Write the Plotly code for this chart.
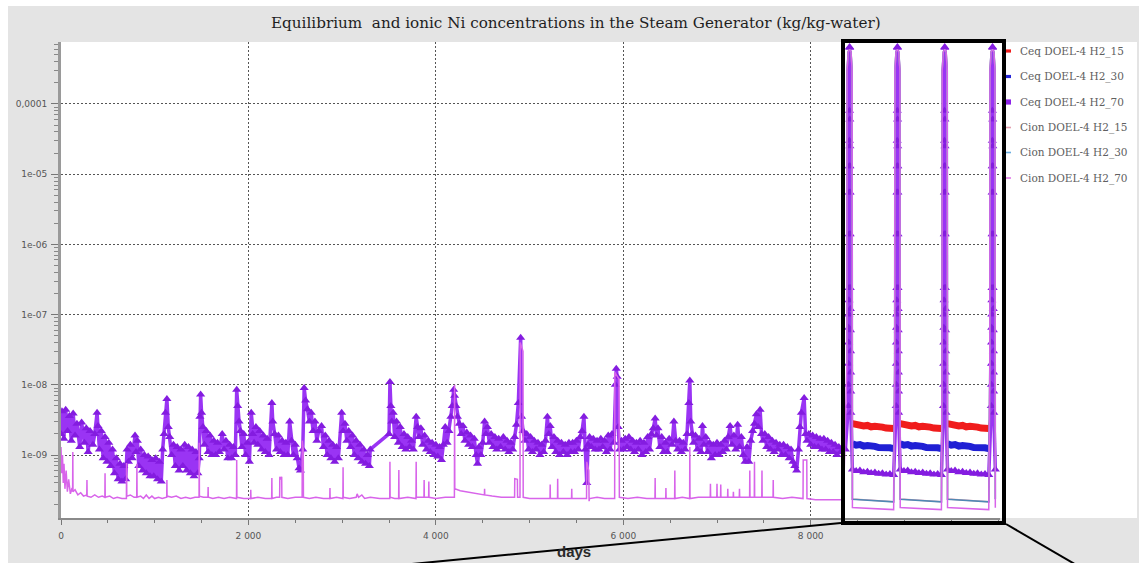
import plotly.graph_objects as go

# ---------------------------------------------------------------------------
# Measured plant history: equilibrium Ni (Ceq), units of 1e-9 kg/kg-water
# ---------------------------------------------------------------------------
hist_days = [
    0, 10, 30, 50, 70, 90, 110, 130, 150, 170,
    200, 220, 250, 270, 290, 310, 340, 360, 385, 395,
    410, 430, 450, 470, 490, 510, 530, 550, 570, 590,
    610, 630, 650, 670, 690, 705, 720, 740, 760, 790,
    800, 815, 830, 850, 870, 890, 910, 930, 950, 970,
    990, 1010, 1030, 1050, 1070, 1085, 1100, 1115, 1130, 1145,
    1160, 1180, 1200, 1220, 1240, 1260, 1280, 1300, 1320, 1340,
    1360, 1380, 1400, 1420, 1440, 1460, 1475, 1482, 1490, 1500,
    1515, 1530, 1550, 1570, 1590, 1610, 1630, 1650, 1670, 1690,
    1720, 1740, 1760, 1780, 1800, 1820, 1840, 1860, 1875, 1885,
    1900, 1915, 1930, 1950, 1970, 1990, 2010, 2030, 2045, 2060,
    2080, 2100, 2120, 2140, 2160, 2180, 2200, 2220, 2250, 2260,
    2280, 2300, 2320, 2340, 2360, 2380, 2400, 2420, 2440, 2460,
    2480, 2500, 2520, 2540, 2555, 2580, 2595, 2610, 2630, 2650,
    2670, 2690, 2710, 2730, 2750, 2780, 2800, 2820, 2840, 2860,
    2880, 2900, 2920, 2940, 2960, 2995, 3010, 3030, 3050, 3070,
    3090, 3110, 3130, 3150, 3170, 3190, 3210, 3230, 3250, 3270,
    3290, 3300, 3500, 3510, 3520, 3530, 3545, 3560, 3580, 3600,
    3620, 3640, 3660, 3680, 3700, 3720, 3740, 3760, 3790, 3805,
    3820, 3840, 3860, 3880, 3900, 3920, 3940, 3960, 3980, 4000,
    4020, 4040, 4060, 4080, 4100, 4120, 4140, 4160, 4175, 4190,
    4200, 4215, 4230, 4250, 4270, 4290, 4310, 4330, 4350, 4370,
    4390, 4410, 4430, 4445, 4460, 4480, 4500, 4520, 4535, 4550,
    4570, 4590, 4610, 4630, 4650, 4670, 4690, 4720, 4740, 4760,
    4780, 4800, 4820, 4840, 4860, 4880, 4905, 4915, 4930, 4950,
    4970, 4990, 5010, 5030, 5050, 5070, 5090, 5110, 5130, 5150,
    5170, 5190, 5205, 5220, 5240, 5260, 5280, 5300, 5320, 5340,
    5360, 5380, 5400, 5420, 5440, 5460, 5480, 5500, 5520, 5540,
    5560, 5580, 5595, 5610, 5625, 5640, 5660, 5680, 5700, 5720,
    5740, 5760, 5780, 5800, 5820, 5840, 5860, 5880, 5900, 5915,
    5925, 5935, 5945, 5960, 5980, 6000, 6020, 6040, 6060, 6080,
    6100, 6120, 6140, 6160, 6180, 6200, 6220, 6240, 6260, 6280,
    6300, 6320, 6340, 6355, 6370, 6390, 6410, 6430, 6450, 6470,
    6490, 6520, 6540, 6560, 6580, 6600, 6620, 6640, 6660, 6680,
    6700, 6710, 6720, 6735, 6750, 6770, 6790, 6810, 6830, 6845,
    6860, 6880, 6900, 6920, 6940, 6960, 6980, 7000, 7020, 7040,
    7060, 7080, 7100, 7120, 7140, 7160, 7180, 7200, 7220, 7240,
    7260, 7280, 7300, 7320, 7340, 7360, 7380, 7400, 7420, 7440,
    7460, 7475, 7490, 7510, 7530, 7550, 7570, 7590, 7610, 7630,
    7650, 7670, 7690, 7710, 7730, 7750, 7770, 7790, 7810, 7830,
    7850, 7870, 7885, 7900, 7930, 7945, 7960, 7980, 8000, 8020,
    8040, 8060, 8080, 8100, 8120, 8140, 8160, 8180, 8200, 8220,
    8240, 8260, 8280, 8300, 8320, 8340, 8370,
]
hist_ceq70 = [
    2.0, 4.2, 1.7, 4.4, 2.2, 3.6, 1.6, 3.9, 1.9, 2.8,
    1.3, 2.9, 1.5, 2.4, 1.1, 2.2, 1.4, 2.0, 4.0, 2.6,
    1.2, 2.2, 0.9, 1.8, 0.8, 1.5, 0.7, 1.2, 0.55, 0.9,
    0.45, 0.75, 0.42, 0.7, 0.45, 1.2, 0.8, 1.4, 0.9, 1.9,
    1.1, 1.6, 0.7, 1.2, 0.6, 1.0, 0.55, 0.95, 0.5, 0.85,
    0.5, 0.9, 0.45, 0.8, 0.42, 1.2, 2.0, 4.0, 6.3, 2.5,
    1.8, 1.0, 1.4, 0.7, 1.3, 0.6, 1.2, 0.7, 1.4, 0.6,
    1.3, 0.55, 1.2, 0.5, 1.1, 0.55, 0.9, 3.5, 7.3, 4.0,
    2.5, 1.4, 2.2, 1.1, 1.9, 1.0, 1.6, 1.0, 1.5, 1.1,
    2.0, 1.2, 1.6, 0.9, 1.4, 0.9, 1.3, 1.0, 8.5, 5.0,
    3.0, 2.2, 1.3, 2.0, 1.0, 1.5, 0.8, 4.0, 2.0, 1.5,
    2.5, 1.4, 2.2, 1.2, 1.9, 1.1, 1.7, 1.0, 5.5, 3.0,
    2.0, 1.2, 1.9, 1.1, 1.6, 1.0, 1.5, 1.0, 3.0, 1.6,
    1.0, 1.4, 0.9, 0.65, 0.6, 1.2, 9.0, 6.0, 4.5, 3.0,
    4.0, 2.2, 3.0, 1.6, 2.2, 2.6, 1.3, 1.9, 1.0, 1.6,
    0.9, 1.4, 0.8, 1.3, 0.9, 4.0, 2.2, 2.8, 1.6, 2.2,
    1.3, 1.9, 1.0, 1.6, 0.9, 1.4, 0.8, 1.2, 0.75, 1.0,
    0.7, 1.2, 2.0, 11.0, 5.0, 3.0, 4.0, 1.8, 3.0, 1.5,
    2.5, 1.3, 2.0, 1.2, 1.8, 1.3, 1.6, 1.2, 3.5, 2.5,
    1.8, 2.4, 1.4, 1.9, 1.2, 1.6, 1.1, 1.5, 1.0, 1.4,
    0.95, 1.3, 0.85, 1.4, 2.5, 1.5, 2.2, 3.5, 5.0, 8.5,
    7.0, 5.0, 3.5, 2.8, 2.0, 2.6, 1.6, 2.1, 1.4, 1.9,
    1.3, 1.7, 1.0, 0.75, 1.3, 1.0, 1.5, 3.0, 2.0, 2.5,
    1.5, 2.0, 1.3, 1.8, 1.2, 1.7, 1.3, 1.8, 1.2, 1.6,
    1.1, 1.5, 1.2, 1.8, 2.7, 5.5, 47.0, 3.5, 2.2, 1.6,
    2.0, 1.2, 1.8, 1.1, 1.6, 1.2, 1.5, 1.0, 1.4, 1.1,
    1.6, 3.5, 2.0, 2.6, 1.3, 1.8, 1.1, 1.6, 1.0, 1.5,
    1.1, 1.4, 1.0, 1.5, 1.1, 1.5, 1.1, 1.6, 1.2, 1.8,
    2.2, 3.5, 1.2, 0.4, 1.4, 1.8, 1.3, 1.7, 1.2, 1.6,
    1.2, 1.7, 1.3, 1.6, 1.1, 1.9, 1.2, 2.0, 1.5, 10.0,
    17.0, 13.0, 2.5, 1.2, 1.6, 1.2, 1.7, 1.3, 1.8, 1.2,
    1.6, 1.1, 1.5, 1.2, 1.6, 1.0, 1.5, 1.1, 1.8, 1.2,
    2.0, 2.4, 3.3, 1.9, 2.4, 1.3, 1.8, 1.1, 1.5, 1.1,
    1.7, 1.4, 3.0, 1.6, 1.2, 1.6, 1.1, 1.5, 1.2, 2.0,
    5.5, 11.5, 3.0, 2.0, 1.5, 1.9, 1.2, 1.7, 1.1, 2.6,
    1.4, 1.8, 1.1, 1.5, 0.9, 1.4, 1.0, 1.5, 1.0, 1.4,
    1.1, 1.6, 1.2, 1.8, 2.6, 1.4, 1.9, 1.2, 2.7, 1.3,
    1.8, 1.0, 0.8, 1.3, 0.8, 1.6, 2.2, 2.8, 3.8, 2.5,
    4.4, 2.0, 1.6, 2.0, 1.3, 1.8, 1.2, 1.6, 1.1, 1.5,
    1.2, 1.4, 1.0, 1.4, 1.0, 1.3, 0.9, 1.2, 0.8, 0.7,
    0.6, 1.2, 2.5, 4.0, 6.5, 2.0, 1.6, 2.0, 1.4, 1.9,
    1.3, 1.8, 1.3, 1.7, 1.2, 1.7, 1.2, 1.6, 1.1, 1.5,
    1.1, 1.4, 1.0, 1.3, 1.1, 1.3, 1.2,
]

# Measured ionic Ni (Cion) history, units of 1e-9 kg/kg-water
cion_hist_days = [
    0, 8, 16, 24, 32, 42, 55, 68, 82, 100,
    118, 124, 126, 128, 150, 180, 210, 240, 275, 277,
    279, 320, 360, 400, 440, 468, 470, 472, 520, 560,
    600, 650, 698, 700, 702, 740, 780, 808, 810, 812,
    850, 880, 910, 940, 970, 1000, 1040, 1080, 1128, 1130,
    1132, 1180, 1230, 1280, 1330, 1380, 1430, 1473, 1475, 1477,
    1520, 1568, 1570, 1572, 1620, 1680, 1740, 1800, 1873, 1875,
    1877, 1950, 2023, 2025, 2027, 2100, 2180, 2248, 2250, 2252,
    2300, 2333, 2335, 2345, 2355, 2357, 2420, 2500, 2573, 2575,
    2585, 2587, 2650, 2720, 2800, 2868, 2870, 2872, 2940, 3008,
    3010, 3012, 3080, 3150, 3160, 3175, 3210, 3240, 3300, 3400,
    3508, 3510, 3512, 3560, 3603, 3605, 3607, 3700, 3788, 3790,
    3792, 3873, 3875, 3877, 3923, 3925, 3927, 4000, 4100, 4198,
    4200, 4202, 4260, 4330, 4400, 4470, 4518, 4520, 4522, 4600,
    4700, 4800, 4840, 4842, 4870, 4872, 4898, 4900, 4930, 4932,
    5000, 5100, 5218, 5220, 5222, 5298, 5300, 5302, 5380, 5448,
    5450, 5452, 5530, 5608, 5610, 5632, 5635, 5640, 5720, 5800,
    5908, 5910, 5955, 5958, 6050, 6150, 6250, 6338, 6340, 6342,
    6453, 6455, 6457, 6548, 6550, 6552, 6630, 6708, 6710, 6712,
    6800, 6928, 6930, 6932, 6998, 7000, 7002, 7038, 7040, 7042,
    7113, 7115, 7117, 7173, 7175, 7177, 7238, 7240, 7242, 7348,
    7350, 7352, 7398, 7400, 7402, 7478, 7480, 7482, 7598, 7600,
    7602, 7700, 7800, 7918, 7920, 7958, 7960, 8050, 8150, 8250,
    8350,
]
cion_hist = [
    1.3, 0.55, 1.0, 0.4, 0.75, 0.33, 0.6, 0.3, 0.45, 0.28,
    0.34, 0.3, 1.1, 0.3, 0.32, 0.27, 0.29, 0.26, 0.27, 0.44,
    0.26, 0.25, 0.27, 0.25, 0.26, 0.25, 0.55, 0.25, 0.26, 0.24,
    0.25, 0.24, 0.24, 0.77, 0.26, 0.27, 0.25, 0.25, 0.75, 0.25,
    0.26, 0.24, 0.27, 0.24, 0.26, 0.24, 0.25, 0.24, 0.25, 0.44,
    0.26, 0.25, 0.26, 0.24, 0.25, 0.24, 0.25, 0.25, 1.5, 0.26,
    0.25, 0.25, 0.35, 0.25, 0.24, 0.25, 0.24, 0.25, 0.24, 0.85,
    0.25, 0.24, 0.24, 0.32, 0.24, 0.25, 0.24, 0.24, 0.47, 0.24,
    0.25, 0.25, 0.49, 0.45, 0.49, 0.25, 0.24, 0.25, 0.25, 1.6,
    1.2, 0.25, 0.24, 0.25, 0.24, 0.24, 0.34, 0.24, 0.25, 0.24,
    0.67, 0.25, 0.24, 0.25, 0.28, 0.25, 0.27, 0.24, 0.25, 0.24,
    0.24, 0.8, 0.25, 0.24, 0.24, 0.61, 0.24, 0.25, 0.24, 0.8,
    0.25, 0.25, 0.44, 0.25, 0.25, 0.42, 0.25, 0.24, 0.25, 0.25,
    10.0, 0.33, 0.31, 0.3, 0.29, 0.28, 0.27, 0.33, 0.27, 0.26,
    0.25, 0.25, 0.25, 0.46, 0.45, 0.25, 0.25, 40.0, 30.0, 0.25,
    0.24, 0.24, 0.24, 0.38, 0.24, 0.24, 0.46, 0.24, 0.24, 0.24,
    0.33, 0.24, 0.24, 0.24, 0.8, 0.6, 0.22, 0.24, 0.25, 0.24,
    0.24, 15.0, 12.0, 0.25, 0.24, 0.25, 0.24, 0.24, 0.47, 0.24,
    0.24, 0.34, 0.24, 0.24, 0.6, 0.24, 0.25, 0.24, 1.3, 0.24,
    0.25, 0.25, 0.39, 0.25, 0.25, 0.39, 0.25, 0.25, 0.38, 0.25,
    0.25, 0.33, 0.25, 0.25, 0.3, 0.25, 0.25, 0.33, 0.25, 0.25,
    0.6, 0.25, 0.25, 0.8, 0.25, 0.25, 0.6, 0.25, 0.25, 0.44,
    0.25, 0.24, 0.25, 0.24, 0.85, 0.85, 0.24, 0.23, 0.23, 0.23,
    0.23,
]

# ---------------------------------------------------------------------------
# Projected operation: refuelling outages and the cycles between them
# ---------------------------------------------------------------------------
outage_centres = [8415, 8925, 9430, 9940]
cycle_starts = [8445, 8955, 9460, 9970]
cycle_lengths = [440, 440, 440, 0]

# Shutdown transient, days relative to outage centre, kg/kg-water
ceq_outage_rel = [-13, -12, -11, -10, -9, -8, -7, -6, -5, -4, -3, -2, -1, 0,
                  1, 2, 3, 4, 5, 6, 7, 8, 9, 10, 11, 12, 13]
ceq_outage = [5e-9, 1e-8, 2e-8, 4e-8, 6.5e-8, 1e-7, 1.6e-7, 2.4e-7, 1.4e-6, 5.5e-6,
              1.3e-5, 3e-5, 8e-5, 6.5e-4, 6.3e-4, 6e-5, 2.5e-5, 1.3e-5, 5.5e-6,
              1.4e-6, 2.4e-7, 1.2e-7, 6e-8, 3e-8, 1.5e-8, 8e-9, 4e-9]
cion_outage_rel = [-29, -27, -15, 0, 15, 27, 29]
cion_outage = [2e-8, 3e-4, 5.5e-4, 6e-4, 5.5e-4, 3e-4, 2e-8]

# Cycle trends, days from cycle start, units of 1e-9 kg/kg-water
cycle_rel = [0, 40, 80, 120, 160, 200, 240, 280, 320, 360, 400, 440]
cycle_ceq15 = [2.80, 2.68, 2.72, 2.60, 2.64, 2.52, 2.56, 2.46, 2.50, 2.42, 2.45, 2.38]
cycle_ceq30 = [1.45, 1.38, 1.41, 1.34, 1.37, 1.31, 1.33, 1.28, 1.30, 1.25, 1.27, 1.23]
cycle_ceq70 = [0.62, 0.59, 0.60, 0.57, 0.58, 0.555, 0.565, 0.54, 0.55, 0.53, 0.535, 0.52]
cycle_cion15 = [0.236, 0.234, 0.232, 0.230, 0.228, 0.226, 0.224, 0.222, 0.221, 0.219, 0.217, 0.216]
cycle_cion30 = [0.235, 0.233, 0.231, 0.229, 0.227, 0.225, 0.223, 0.221, 0.220, 0.218, 0.216, 0.215]
cycle_cion70 = [0.178, 0.177, 0.176, 0.175, 0.174, 0.173, 0.172, 0.171, 0.170, 0.169, 0.168, 0.167]

NANO = 1e-9


def projection(out_rel, out_vals, cyc_vals):
    """Chain outage transients and cycle trends into one time series."""
    days, vals, in_cycle = [], [], []
    for k, centre in enumerate(outage_centres):
        for r, v in zip(out_rel, out_vals):
            days.append(centre + r)
            vals.append(v)
            in_cycle.append(False)
        for r, v in zip(cycle_rel, cyc_vals):
            if r <= cycle_lengths[k]:
                days.append(cycle_starts[k] + r)
                vals.append(v * NANO)
                in_cycle.append(True)
    return days, vals, in_cycle


# ---------------------------------------------------------------------------
# Figure geometry (pixels) and styling
# ---------------------------------------------------------------------------
W, H = 1139, 563
PL, PR, PT, PB = 61, 1000, 42, 518


def fx(px):
    return (px - PL) / (PR - PL)


def fy(py):
    return (PB - py) / (PB - PT)


fig = go.Figure()

# Ceq, 15 and 30 cc/kg H2 (projection only): thin transient + thick cycle band
for name, cyc, colour in [("Ceq DOEL-4 H2_15", cycle_ceq15, "#f01c1c"),
                          ("Ceq DOEL-4 H2_30", cycle_ceq30, "#2020d4")]:
    d, v, cyc_flag = projection(ceq_outage_rel, ceq_outage, cyc)
    fig.add_trace(go.Scatter(
        x=d, y=v, name=name, mode="lines",
        line=dict(color=colour, width=1.5), showlegend=False))
    fig.add_trace(go.Scatter(
        x=d, y=[val if f else None for val, f in zip(v, cyc_flag)],
        name=name, mode="lines", connectgaps=False,
        line=dict(color=colour, width=7), showlegend=False))

# Ceq, 70 cc/kg H2: measured history followed by the projection
d70, v70, _ = projection(ceq_outage_rel, ceq_outage, cycle_ceq70)
fig.add_trace(go.Scatter(
    x=hist_days + d70, y=[v * NANO for v in hist_ceq70] + v70,
    name="Ceq DOEL-4 H2_70", mode="lines+markers",
    line=dict(color="#9a34f4", width=3.5),
    marker=dict(symbol="triangle-up", color="#841ce0", size=8),
    showlegend=False))

# Cion series
for name, cyc, colour, width in [("Cion DOEL-4 H2_15", cycle_cion15, "#e3a0b0", 1.4),
                                 ("Cion DOEL-4 H2_30", cycle_cion30, "#4f88b4", 1.6)]:
    d, v, _ = projection(cion_outage_rel, cion_outage, cyc)
    fig.add_trace(go.Scatter(x=d, y=v, name=name, mode="lines",
                             line=dict(color=colour, width=width),
                             showlegend=False))

dc, vc, _ = projection(cion_outage_rel, cion_outage, cycle_cion70)
fig.add_trace(go.Scatter(
    x=cion_hist_days + dc, y=[v * NANO for v in cion_hist] + vc,
    name="Cion DOEL-4 H2_70", mode="lines",
    line=dict(color="#d864ea", width=1.5),
    showlegend=False))

# Axis ticks
y_tickvals = [1e-4, 1e-5, 1e-6, 1e-7, 1e-8, 1e-9]
y_ticktext = ["0,0001", "1e-05", "1e-06", "1e-07", "1e-08", "1e-09"]
x_tickvals = [0, 2000, 4000, 6000, 8000]
x_ticktext = ["0", "2 000", "4 000", "6 000", "8 000"]

tick_font = dict(family="DejaVu Sans", size=9, color="#555555")
grid_style = dict(showgrid=True, gridcolor="#555555", gridwidth=1, griddash="2px,2px")

fig.update_xaxes(
    range=[0, (PR - PL) / 0.093714], tickmode="array",
    tickvals=x_tickvals, ticktext=x_ticktext, tickfont=tick_font,
    ticks="outside", ticklen=5, tickcolor="#777777", ticklabelstandoff=3,
    minor=dict(tickmode="linear", dtick=500, ticks="outside", ticklen=3,
               tickcolor="#777777", showgrid=False),
    showline=True, linecolor="#8a8a8a", linewidth=2, zeroline=False,
    **grid_style)
fig.update_yaxes(
    type="log", range=[-9.897, -3.117], tickmode="array",
    tickvals=y_tickvals, ticktext=y_ticktext, tickfont=tick_font,
    ticks="outside", ticklen=7, tickcolor="#777777", ticklabelstandoff=2,
    minor=dict(tickmode="linear", dtick="D1", ticks="outside", ticklen=4,
               tickcolor="#888888", showgrid=False),
    showline=True, linecolor="#9a9a9a", linewidth=3, zeroline=False,
    **grid_style)

# Panel background: grey frame, white legend column
shapes = [
    dict(type="rect", xref="paper", yref="paper", layer="below",
         x0=fx(-5), x1=fx(W + 5), y0=fy(6), y1=fy(-5),
         fillcolor="white", line=dict(width=0)),
    dict(type="rect", xref="paper", yref="paper", layer="below",
         x0=fx(-5), x1=fx(8), y0=fy(H + 5), y1=fy(-5),
         fillcolor="white", line=dict(width=0)),
    dict(type="rect", xref="paper", yref="paper", layer="below",
         x0=fx(PR), x1=fx(1137), y0=fy(PB), y1=fy(PT),
         fillcolor="white", line=dict(width=0)),
    # highlighted projection window and its call-out lines
    dict(type="rect", xref="paper", yref="paper",
         x0=fx(843), x1=fx(1004), y0=fy(523), y1=fy(41),
         line=dict(color="black", width=4)),
    dict(type="line", xref="paper", yref="paper",
         x0=fx(841), y0=fy(523), x1=fx(349), y1=fy(570),
         line=dict(color="black", width=2)),
    dict(type="line", xref="paper", yref="paper",
         x0=fx(1006), y0=fy(524), x1=fx(1085), y1=fy(570),
         line=dict(color="black", width=2)),
]

# Legend column
legend_names = ["Ceq DOEL-4 H2_15", "Ceq DOEL-4 H2_30", "Ceq DOEL-4 H2_70",
                "Cion DOEL-4 H2_15", "Cion DOEL-4 H2_30", "Cion DOEL-4 H2_70"]
legend_colours = ["#f01c1c", "#2424d8", "#8c22e8", "#e3a0b0", "#6aaee0", "#e07ae8"]
legend_rows = [51, 76.5, 102, 127.5, 152.5, 178]
legend_half_heights = [1.6, 1.6, 2.6, 0.8, 0.8, 0.8]

annotations = []
for name, colour, py, hh in zip(legend_names, legend_colours, legend_rows, legend_half_heights):
    shapes.append(dict(type="rect", xref="paper", yref="paper",
                       x0=fx(1006), x1=fx(1011), y0=fy(py + hh), y1=fy(py - hh),
                       fillcolor=colour, line=dict(width=0)))
    annotations.append(dict(xref="paper", yref="paper", x=fx(1018), y=fy(py),
                            xanchor="left", yanchor="middle", showarrow=False,
                            text=name,
                            font=dict(family="DejaVu Serif", size=10.5, color="#606060")))

annotations.append(dict(
    xref="paper", yref="paper", x=fx(576), y=fy(23), xanchor="center", yanchor="middle",
    showarrow=False,
    text="Equilibrium  and ionic Ni concentrations in the Steam Generator (kg/kg-water)",
    font=dict(family="DejaVu Serif", size=15.2, color="#1e1e1e")))
annotations.append(dict(
    xref="paper", yref="paper", x=fx(574), y=fy(551), xanchor="center", yanchor="middle",
    showarrow=False, text="<b>days</b>",
    font=dict(family="Liberation Sans", size=15, color="#2a2a2a")))

fig.update_layout(
    width=W, height=H,
    margin=dict(l=PL, r=W - PR, t=PT, b=H - PB, pad=0),
    paper_bgcolor="#e4e4e4", plot_bgcolor="white",
    shapes=shapes, annotations=annotations, showlegend=False,
)

fig.write_html("out.html")
